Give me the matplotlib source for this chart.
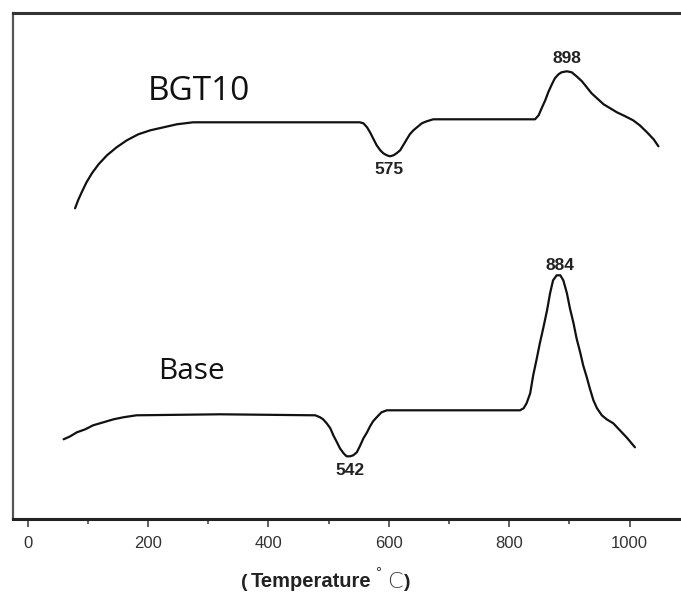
import numpy as np
import matplotlib
matplotlib.use('Agg')
import matplotlib.pyplot as plt

# DTA traces (temperature in C, signal in arbitrary units)
bgt10_temp = [79, 84, 90, 98, 107, 118, 132, 148, 165, 184,
              204, 226, 248, 275, 303, 353, 552, 558, 564, 569,
              574, 580, 586, 591, 597, 602, 608, 613, 619, 624,
              630, 635, 641, 647, 655, 663, 674, 843, 849, 854,
              860, 865, 871, 876, 882, 887, 896, 904, 912, 921,
              929, 937, 946, 957, 968, 979, 993, 1006, 1017, 1029,
              1040, 1048]
bgt10_signal = [311, 319, 327, 337, 346, 355, 364, 372, 379, 385,
                389, 392, 395, 397, 397, 397, 397, 396, 392, 387,
                381, 374, 369, 366, 364, 363, 364, 366, 369, 374,
                380, 385, 389, 392, 396, 398, 400, 400, 404, 411,
                419, 427, 435, 441, 445, 447, 448, 447, 443, 438,
                432, 426, 421, 415, 411, 407, 403, 399, 394, 387,
                380, 373]

base_temp = [60, 71, 82, 96, 109, 126, 143, 159, 181, 320,
             478, 486, 491, 497, 503, 508, 514, 519, 525, 530,
             536, 541, 547, 552, 558, 564, 569, 574, 580, 588,
             597, 608, 818, 824, 829, 835, 840, 846, 851, 857,
             863, 868, 873, 879, 885, 890, 896, 901, 907, 912,
             918, 923, 929, 934, 940, 946, 954, 962, 973, 984,
             995, 1009]
base_signal = [80, 83, 87, 90, 94, 97, 100, 102, 104, 105,
               104, 102, 100, 96, 91, 84, 77, 71, 66, 63,
               63, 64, 67, 73, 81, 87, 93, 98, 102, 107,
               109, 109, 109, 111, 116, 126, 144, 161, 176, 192,
               209, 226, 239, 244, 244, 239, 226, 211, 196, 181,
               167, 154, 142, 131, 119, 111, 104, 100, 96, 89,
               82, 72]

series_names = ['BGT10', 'Base']
bgt10_peaks = ['575', '898']   # endo dip, exo peak
base_peaks = ['542', '884']

x_ticks = [0, 200, 400, 600, 800, 1000]
x_minor = [100, 300, 500, 700, 900]


def dip_index(temp, sig, lo, hi):
    idx = [k for k, t in enumerate(temp) if lo <= t <= hi]
    return min(idx, key=lambda k: sig[k])


fig = plt.figure(figsize=(6.81, 5.92), dpi=100)
ax = fig.add_axes([13.3 / 681, 1 - 519.3 / 592, 1 - 13.3 / 681, (519.3 - 13.3) / 592])

ax.plot(bgt10_temp, bgt10_signal, color='#111111', lw=1.6, solid_capstyle='round')
ax.plot(base_temp, base_signal, color='#111111', lw=1.6, solid_capstyle='round')

ax.set_xlim(-23.6, 1085.5)
ax.set_ylim(0, 506)

# peak labels
lab_kw = dict(textcoords='offset pixels', ha='center', va='center',
              fontsize=12.5, fontweight='bold', family='Liberation Sans', color='#222222')
i = dip_index(bgt10_temp, bgt10_signal, 500, 750)
ax.annotate(bgt10_peaks[0], xy=(bgt10_temp[i], bgt10_signal[i]), xytext=(-1, -13), **lab_kw)
i = int(np.argmax(bgt10_signal))
ax.annotate(bgt10_peaks[1], xy=(bgt10_temp[i], bgt10_signal[i]), xytext=(0, 13), **lab_kw)
i = dip_index(base_temp, base_signal, 400, 700)
ax.annotate(base_peaks[0], xy=(base_temp[i], base_signal[i]), xytext=(3, -14), **lab_kw)
i = int(np.argmax(base_signal))
ax.annotate(base_peaks[1], xy=(base_temp[i], base_signal[i]), xytext=(3, 10), **lab_kw)

# series names
ax.text(200, 419, series_names[0], fontsize=24, family='Open Sans', color='#111111',
        ha='left', va='baseline')
ax.text(217, 140, series_names[1], fontsize=21.5, family='Open Sans', color='#111111',
        ha='left', va='baseline')

# spines and ticks
ax.spines['right'].set_visible(False)
ax.spines['top'].set_linewidth(2.2)
ax.spines['top'].set_color('#333333')
ax.spines['left'].set_linewidth(1.6)
ax.spines['left'].set_color('#555555')
ax.spines['bottom'].set_linewidth(2.2)
ax.spines['bottom'].set_color('#222222')

ax.set_xticks(x_ticks)
ax.set_xticks(x_minor, minor=True)
ax.tick_params(axis='x', which='major', direction='out', length=6, width=1.2,
               color='#444444', pad=6, labelsize=12, labelcolor='#333333')
ax.tick_params(axis='x', which='minor', direction='out', length=3.5, width=1.2, color='#444444')
for lab in ax.get_xticklabels():
    lab.set_family('Liberation Sans')
ax.set_yticks([])

# x label, assembled in pieces like the original
fig.text(241 / 681, 1 - 587 / 592, '(', fontsize=14, fontweight='bold',
         family='Liberation Sans', color='#222222', ha='left', va='baseline')
fig.text(251 / 681, 1 - 587 / 592, 'Temperature', fontsize=14.5, fontweight='bold',
         family='Liberation Sans', color='#222222', ha='left', va='baseline')
fig.text(375 / 681, 1 - 577 / 592, '°', fontsize=11, family='Liberation Sans',
         color='#333333', ha='left', va='baseline')
fig.text(387 / 681, 1 - 588 / 592, 'C', fontsize=16, family='DejaVu Sans', fontweight='light',
         color='#444444', ha='left', va='baseline')
fig.text(404 / 681, 1 - 587 / 592, ')', fontsize=14, fontweight='bold',
         family='Liberation Sans', color='#222222', ha='left', va='baseline')

fig.savefig('out.png', dpi=100)
